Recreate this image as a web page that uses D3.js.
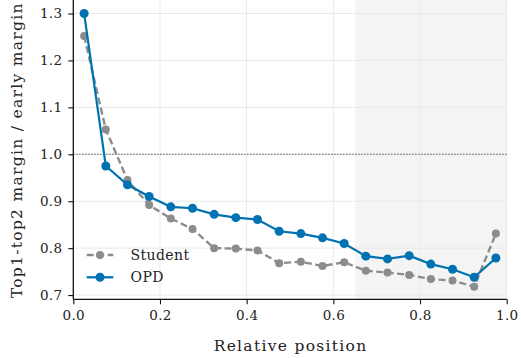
<!DOCTYPE html>
<html>
<head>
<meta charset="utf-8">
<script src="https://cdn.jsdelivr.net/npm/d3@7"></script>
<style>
  body { margin: 0; background: #fff; }
  svg text { font-family: "DejaVu Serif", "DejaVu Sans", serif; fill: #222; }
</style>
</head>
<body>
<svg id="chart" width="521" height="358"></svg>
<script>
// relative position bins (centres)
const positions = [0.025, 0.075, 0.125, 0.175, 0.225, 0.275, 0.325, 0.375, 0.425, 0.475,
                   0.525, 0.575, 0.625, 0.675, 0.725, 0.775, 0.825, 0.875, 0.925, 0.975];
const studentVals = [1.252, 1.053, 0.945, 0.892, 0.863, 0.841, 0.800, 0.799, 0.795, 0.768,
                     0.771, 0.762, 0.770, 0.752, 0.748, 0.743, 0.734, 0.731, 0.718, 0.831];
const opdVals = [1.300, 0.975, 0.935, 0.910, 0.888, 0.885, 0.872, 0.865, 0.861, 0.836,
                 0.831, 0.822, 0.810, 0.783, 0.777, 0.784, 0.766, 0.755, 0.738, 0.779];
const xTicks = [0.0, 0.2, 0.4, 0.6, 0.8, 1.0];
const yTicks = [0.7, 0.8, 0.9, 1.0, 1.1, 1.2, 1.3];
const shadeFrom = 0.65;
const refLine = 1.0;

const studentColor = "#8c8c8c";
const opdColor = "#0072b2";
// serif faces are not always present; DejaVu Sans is the closest fallback in metrics
const fontStack = '"DejaVu Serif", "DejaVu Sans", serif';

const svg = d3.select("#chart");
const plot = {left: 73.3, right: 506.7, top: 0, bottom: 299.3};

const x = d3.scaleLinear().domain([0, 1]).range([plot.left, plot.right]);
const y = d3.scaleLinear().domain([0.691, 1.3288]).range([plot.bottom, plot.top]);

// shaded late region
svg.append("rect")
  .attr("x", x(shadeFrom)).attr("y", plot.top)
  .attr("width", x(1) - x(shadeFrom)).attr("height", plot.bottom - plot.top)
  .attr("fill", "#f4f4f4");

// grid
const grid = svg.append("g").attr("stroke", "#e6e6e6").attr("stroke-width", 0.9);
grid.selectAll(".gx").data(xTicks.slice(1)).join("line")
  .attr("x1", d => x(d)).attr("x2", d => x(d))
  .attr("y1", plot.top).attr("y2", plot.bottom);
grid.selectAll(".gy").data(yTicks).join("line")
  .attr("x1", plot.left).attr("x2", plot.right)
  .attr("y1", d => y(d)).attr("y2", d => y(d));

// reference line at 1.0
svg.append("line")
  .attr("x1", plot.left).attr("x2", plot.right)
  .attr("y1", y(refLine)).attr("y2", y(refLine))
  .attr("stroke", "#333").attr("stroke-width", 1.1)
  .attr("stroke-dasharray", "1.2,1.8");

// axes
const xAxis = svg.append("g")
  .attr("transform", `translate(0,${plot.bottom})`)
  .call(d3.axisBottom(x).tickValues(xTicks).tickFormat(d3.format(".1f")).tickSize(5).tickPadding(6));
const yAxis = svg.append("g")
  .attr("transform", `translate(${plot.left},0)`)
  .call(d3.axisLeft(y).tickValues(yTicks).tickFormat(d3.format(".1f")).tickSize(5).tickPadding(6));
[xAxis, yAxis].forEach(a => {
  a.attr("font-family", fontStack);
  a.select(".domain").attr("stroke", "#111").attr("stroke-width", 1.3);
  a.selectAll(".tick line").attr("stroke", "#111").attr("stroke-width", 1.1);
  a.selectAll(".tick text").attr("font-size", 13.5).attr("fill", "#222")
    .attr("letter-spacing", 0.3);
});
yAxis.select(".domain").attr("d", `M0,${plot.top}V${plot.bottom}`);
xAxis.select(".domain").attr("d", `M${plot.left},0H${plot.right}`);

// series
const line = d3.line().x((d, i) => x(positions[i])).y(d => y(d));

svg.append("path").datum(studentVals)
  .attr("fill", "none").attr("stroke", studentColor).attr("stroke-width", 2.4)
  .attr("stroke-dasharray", "7,3.5").attr("d", line);
svg.append("g").selectAll("circle").data(studentVals).join("circle")
  .attr("cx", (d, i) => x(positions[i])).attr("cy", d => y(d))
  .attr("r", 4).attr("fill", studentColor);

svg.append("path").datum(opdVals)
  .attr("fill", "none").attr("stroke", opdColor).attr("stroke-width", 2.2)
  .attr("d", line);
svg.append("g").selectAll("circle").data(opdVals).join("circle")
  .attr("cx", (d, i) => x(positions[i])).attr("cy", d => y(d))
  .attr("r", 4.5).attr("fill", opdColor);

// legend
const legendItems = [
  {name: "Student", color: studentColor, dash: "7,3.5", r: 4, y: 255},
  {name: "OPD", color: opdColor, dash: null, r: 4.5, y: 277.3}
];
const lg = svg.append("g");
legendItems.forEach(it => {
  lg.append("line")
    .attr("x1", 86.7).attr("x2", 113.3).attr("y1", it.y).attr("y2", it.y)
    .attr("stroke", it.color).attr("stroke-width", 2.3)
    .attr("stroke-dasharray", it.dash);
  lg.append("circle").attr("cx", 100).attr("cy", it.y).attr("r", it.r).attr("fill", it.color);
  lg.append("text").attr("x", 130.5).attr("y", it.y + 5)
    .attr("font-size", 14).attr("letter-spacing", 0.4).text(it.name);
});

// axis labels
svg.append("text")
  .attr("x", (plot.left + plot.right) / 2 + 0.6).attr("y", 351)
  .attr("text-anchor", "middle").attr("font-size", 15.5).attr("letter-spacing", 1.3)
  .text("Relative position");
svg.append("text")
  .attr("transform", `translate(22,${(plot.top + plot.bottom) / 2 + 0.6}) rotate(-90)`)
  .attr("text-anchor", "middle").attr("font-size", 15.5).attr("letter-spacing", 1.3)
  .text("Top1-top2 margin / early margin");
</script>
</body>
</html>
